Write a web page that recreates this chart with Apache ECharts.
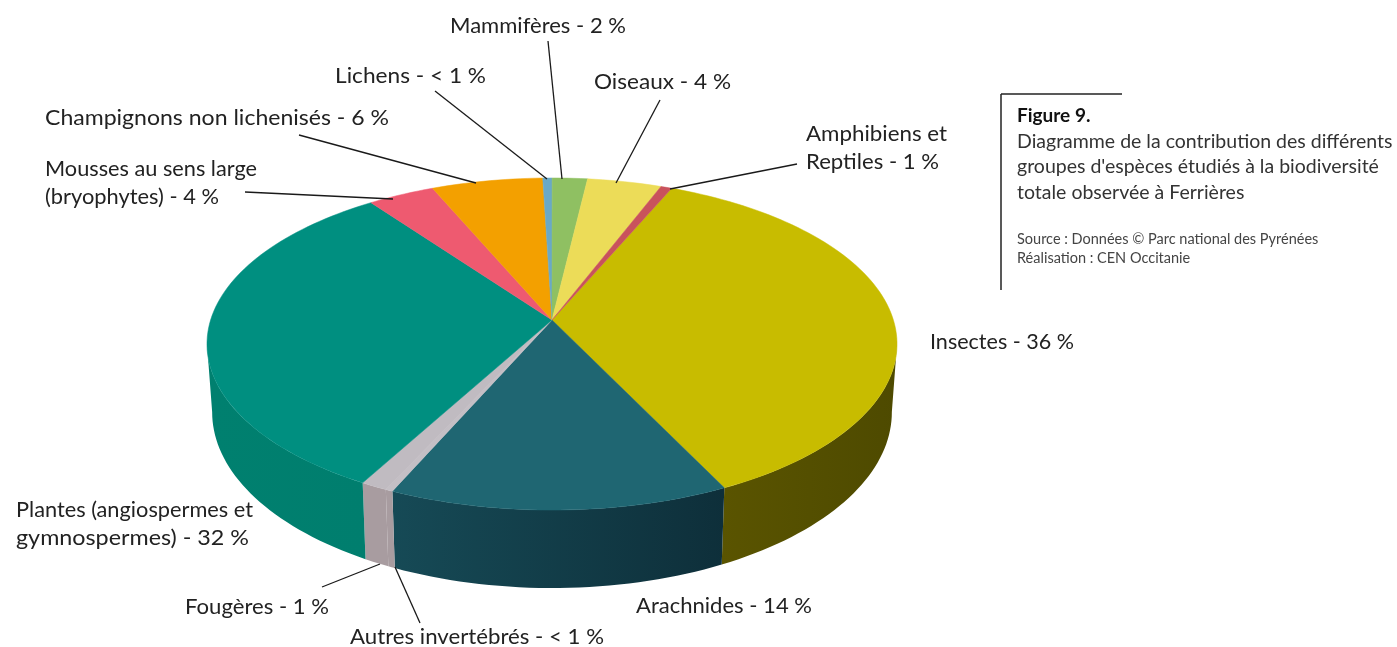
<!DOCTYPE html>
<html>
<head>
<meta charset="utf-8">
<title>Figure 9</title>
<style>
html, body { margin: 0; padding: 0; background: #fff; }
#chart { width: 1397px; height: 647px; }
</style>
<script src="https://cdn.jsdelivr.net/npm/echarts@6/dist/echarts.min.js"></script>
</head>
<body>
<div id="chart"></div>
<script>
// clockwise from Insectes (the "<1 %" ones are estimates)
var categories = ['Insectes', 'Arachnides', 'Autres invertébrés', 'Fougères', 'Plantes',
    'Mousses', 'Champignons', 'Lichens', 'Mammifères', 'Oiseaux', 'Amphibiens et Reptiles'];
var values = [36.3, 13.9, 0.3, 1.1, 31.9, 3.6, 6, 0.5, 1.9, 4, 0.6];

var topColors = ['#c8bc00', '#1f6672', '#c4bfc5', '#c0bbc1', '#008f80',
    '#ee5a70', '#f3a000', '#6aa9c6', '#8fc062', '#ecdc58', '#c9525c'];
var sideColors = [['#5a5400', '#4e4a00'], ['#164a56', '#0e2f3a'], ['#a89ca0', '#a89ca0'], ['#a89ca0', '#a89ca0'], ['#00806f', '#007e6e'],
    ['#b8404f', '#b8404f'], ['#b87a00', '#b87a00'], ['#4d7f96', '#4d7f96'], ['#6a9148', '#6a9148'], ['#b3a63f', '#b3a63f'], ['#963c44', '#963c44']];

// w = text width
var labels = [
    { lines: ['Mammifères - 2 %'], w: [176], x: 450, y: 26 },
    { lines: ['Lichens - < 1 %'], w: [151], x: 335, y: 76 },
    { lines: ['Oiseaux - 4 %'], w: [137], x: 594, y: 82 },
    { lines: ['Amphibiens et', 'Reptiles - 1 %'], w: [141, 133], x: 806, y: 134 },
    { lines: ['Champignons non lichenisés - 6 %'], w: [344], x: 45, y: 118 },
    { lines: ['Mousses au sens large', '(bryophytes) - 4 %'], w: [212, 174], x: 45, y: 169 },
    { lines: ['Insectes - 36 %'], w: [144], x: 930, y: 342 },
    { lines: ['Plantes (angiospermes et', 'gymnospermes) - 32 %'], w: [237, 233], x: 16, y: 510 },
    { lines: ['Fougères - 1 %'], w: [144], x: 185, y: 607 },
    { lines: ['Arachnides - 14 %'], w: [176], x: 636, y: 606 },
    { lines: ['Autres invertébrés - < 1 %'], w: [254], x: 350, y: 637 }
];
var leaders = [
    [548, 41, 562, 179], [435, 91, 547, 179], [660, 100, 616, 183], [797, 164, 670, 189],
    [299, 135, 476, 183], [245, 192, 393, 199], [322, 587, 380, 564], [395, 567, 420, 623]
];

var START_ANGLE = 23.4;
// circle seen in perspective: apex at (cx, cy), back rim 178, front rim 510
var cx = 552, cy = 320, persp = -0.1446, ky = 116.3, kx = 341.4;
var depth = 66.7, bottomScale = 0.985;
// only this arc of the rim faces the viewer
var FRONT_FROM = 98.3, FRONT_TO = 261.7;

var project = function (deg, lower) {
    var rad = deg * Math.PI / 180;
    var u = Math.sin(rad), v = -Math.cos(rad);
    var w = 1 + persp * v;
    var x = kx * u / w;
    var y = (ky * v + cy) / w;
    if (lower) {
        return [cx + x * bottomScale, y + depth / w];
    }
    return [cx + x, y];
};

var rim = function (a0, a1, lower) {
    var pts = [];
    var n = Math.max(2, Math.ceil((a1 - a0) / 1.5));
    for (var i = 0; i <= n; i++) {
        pts.push(project(a0 + (a1 - a0) * i / n, lower));
    }
    return pts;
};

var rows = [];
var total = values.reduce(function (a, b) { return a + b; }, 0);
var acc = START_ANGLE;
for (var i = 0; i < values.length; i++) {
    var span = values[i] / total * 360;
    rows.push([values[i], acc, acc + span, i]);
    acc += span;
}

var renderSide = function (params, api) {
    var a0 = Math.max(api.value(1), FRONT_FROM), a1 = Math.min(api.value(2), FRONT_TO), idx = api.value(3);
    if (a1 <= a0) {
        return null;
    }
    var pts = rim(a0, a1, false).concat(rim(a0, a1, true).reverse());
    return {
        type: 'polygon',
        shape: { points: pts },
        style: {
            fill: new echarts.graphic.LinearGradient(0, 0, 1, 0, [
                { offset: 0, color: sideColors[idx][0] },
                { offset: 1, color: sideColors[idx][1] }
            ])
        }
    };
};

var renderTop = function (params, api) {
    var a0 = api.value(1), a1 = api.value(2), idx = api.value(3);
    var pts = [[cx, cy]].concat(rim(a0, a1, false));
    return {
        type: 'polygon',
        shape: { points: pts },
        style: { fill: topColors[idx], stroke: topColors[idx], lineWidth: 0.5 }
    };
};

var measure = document.createElement('canvas').getContext('2d');
var LABEL_FONT = '21px Lato';
measure.font = LABEL_FONT;

var graphics = [];
leaders.forEach(function (l) {
    graphics.push({
        type: 'line', z: 10,
        shape: { x1: l[0], y1: l[1], x2: l[2], y2: l[3] },
        style: { stroke: '#1a1a1a', lineWidth: 1.3 }
    });
});
labels.forEach(function (l) {
    l.lines.forEach(function (txt, j) {
        graphics.push({
            type: 'text', z: 10, x: l.x, y: l.y + j * 28,
            scaleX: l.w[j] / measure.measureText(txt).width,
            style: { text: txt, fill: '#222', font: LABEL_FONT, verticalAlign: 'middle' }
        });
    });
});

// caption box
graphics.push({ type: 'line', z: 10, shape: { x1: 1001, y1: 94, x2: 1122, y2: 94 }, style: { stroke: '#222', lineWidth: 1.5 } });
graphics.push({ type: 'line', z: 10, shape: { x1: 1001, y1: 94, x2: 1001, y2: 290 }, style: { stroke: '#222', lineWidth: 1.5 } });
var caption = [
    { t: 'Figure 9.', y: 116, font: 'bold 19px Lato', fill: '#111' },
    { t: 'Diagramme de la contribution des différents', y: 142, font: '19.5px Lato', fill: '#333' },
    { t: "groupes d'espèces étudiés à la biodiversité", y: 167, font: '19.5px Lato', fill: '#333' },
    { t: 'totale observée à Ferrières', y: 193, font: '19.5px Lato', fill: '#333' },
    { t: 'Source : Données © Parc national des Pyrénées', y: 239, font: '14.5px Lato', fill: '#444' },
    { t: 'Réalisation : CEN Occitanie', y: 258, font: '14.5px Lato', fill: '#444' }
];
caption.forEach(function (c) {
    graphics.push({
        type: 'text', z: 10, x: 1017, y: c.y,
        style: { text: c.t, fill: c.fill, font: c.font, verticalAlign: 'middle' }
    });
});

var chart = echarts.init(document.getElementById('chart'));
chart.setOption({
    animation: false,
    backgroundColor: '#fff',
    tooltip: { show: false },
    series: [
        { type: 'custom', coordinateSystem: 'none', name: 'side', renderItem: renderSide, data: rows, silent: true, z: 1 },
        { type: 'custom', coordinateSystem: 'none', name: 'top', renderItem: renderTop, data: rows, silent: true, z: 2 }
    ],
    graphic: graphics
});
</script>
</body>
</html>
